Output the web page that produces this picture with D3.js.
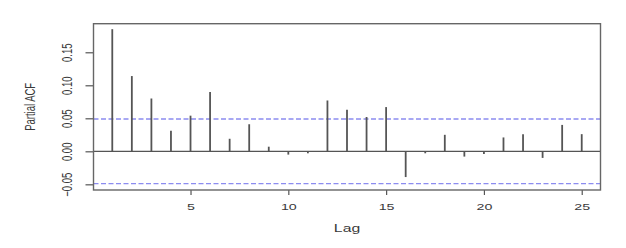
<!DOCTYPE html>
<html>
<head>
<meta charset="utf-8">
<script src="https://cdn.jsdelivr.net/npm/d3@7/dist/d3.min.js"></script>
<style>
  body { margin: 0; background: #fff; }
  svg text { font-family: 'Liberation Sans', Arial, sans-serif; fill: #3a3a3a; }
</style>
</head>
<body>
<svg id="chart" width="626" height="248"></svg>
<script>
// partial autocorrelation by lag
const lags = [1, 2, 3, 4, 5, 6, 7, 8, 9, 10, 11, 12, 13, 14, 15, 16, 17, 18, 19, 20, 21, 22, 23, 24, 25];
const pacf = [0.185, 0.114, 0.080, 0.031, 0.054, 0.090, 0.019, 0.041, 0.007, -0.005,
  -0.003, 0.077, 0.063, 0.052, 0.067, -0.039, -0.003, 0.025, -0.008, -0.004,
  0.021, 0.026, -0.010, 0.040, 0.026];
const ciBound = 0.049;
const xTicks = [5, 10, 15, 20, 25];
const yTicks = [-0.05, 0, 0.05, 0.10, 0.15];

const svg = d3.select('#chart');
const plotLeft = 93.5, plotRight = 600.5, plotTop = 23.7, plotBottom = 190;

// R pads the data range by 4% on each side
const x = d3.scaleLinear().domain([0.04, 25.96]).range([plotLeft, plotRight]);
const y = d3.scaleLinear().domain([-0.0586, 0.1933]).range([plotBottom, plotTop]);

// zero line
svg.append('line')
  .attr('x1', plotLeft).attr('x2', plotRight)
  .attr('y1', y(0)).attr('y2', y(0))
  .attr('stroke', '#555').attr('stroke-width', 1.3);

// confidence bounds
svg.append('g').selectAll('line')
  .data([ciBound, -ciBound])
  .enter()
  .append('line')
  .attr('x1', plotLeft).attr('x2', plotRight)
  .attr('y1', d => y(d)).attr('y2', d => y(d))
  .attr('stroke', '#8c8cf0')
  .attr('stroke-width', 1.4)
  .attr('stroke-dasharray', '5,2.5');

// spikes
svg.append('g').selectAll('line')
  .data(lags)
  .enter()
  .append('line')
  .attr('x1', d => x(d)).attr('x2', d => x(d))
  .attr('y1', y(0))
  .attr('y2', (d, i) => y(pacf[i]))
  .attr('stroke', '#555')
  .attr('stroke-width', 1.8);

// axes
const yAxis = svg.append('g')
  .attr('transform', `translate(${plotLeft},0)`)
  .call(d3.axisLeft(y).tickValues(yTicks).tickSize(8).tickFormat(d3.format('.2f')));
yAxis.select('.domain').remove();
yAxis.selectAll('line').attr('stroke', '#555').attr('stroke-width', 1.2);
yAxis.selectAll('text')
  .attr('x', null)
  .attr('dy', '0.35em')
  .attr('text-anchor', 'middle')
  .attr('transform', 'translate(-27,0) rotate(-90) scale(1,1.5)')
  .style('font-size', '9.5px');

const xAxis = svg.append('g')
  .attr('transform', `translate(0,${plotBottom})`)
  .call(d3.axisBottom(x).tickValues(xTicks).tickSize(5));
xAxis.select('.domain').remove();
xAxis.selectAll('line').attr('stroke', '#555').attr('stroke-width', 1.2);
xAxis.selectAll('text')
  .attr('y', null)
  .attr('dy', '0.35em')
  .attr('transform', 'translate(0,16.7) scale(1.5,1)')
  .style('font-size', '9.5px');

// plot frame
svg.append('rect')
  .attr('x', plotLeft).attr('y', plotTop)
  .attr('width', plotRight - plotLeft).attr('height', plotBottom - plotTop)
  .attr('fill', 'none')
  .attr('stroke', '#666')
  .attr('stroke-width', 1.4);

// axis titles
svg.append('text')
  .attr('text-anchor', 'middle')
  .attr('dy', '0.35em')
  .attr('transform', 'translate(347,228) scale(1.5,1)')
  .style('font-size', '10.5px')
  .text('Lag');

svg.append('text')
  .attr('text-anchor', 'middle')
  .attr('dy', '0.35em')
  .attr('transform', `translate(30,${(plotTop + plotBottom) / 2}) rotate(-90) scale(1,1.5)`)
  .style('font-size', '9.5px')
  .text('Partial ACF');
</script>
</body>
</html>
